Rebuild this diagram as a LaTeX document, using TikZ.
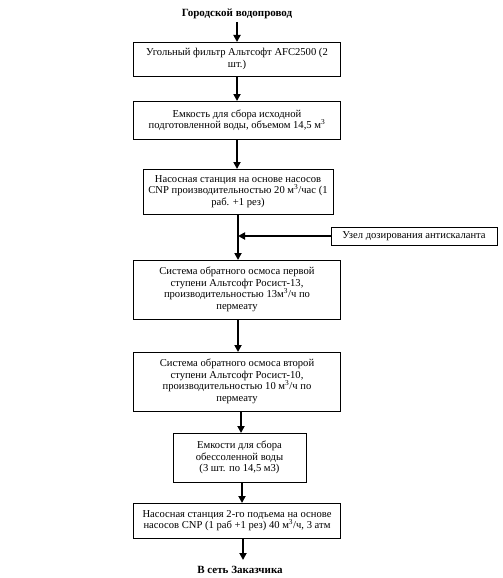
\documentclass[tikz,border=0pt]{standalone}
\usepackage{fontspec}
\setmainfont{Liberation Serif}
\usetikzlibrary{arrows.meta}
\begin{document}
\begin{tikzpicture}[x=1pt,y=-1pt,
  box/.style={draw=black,line width=0.8pt,align=center,inner sep=1pt,
    font=\fontsize{10.6}{11.5}\selectfont},
  lbl/.style={font=\bfseries\fontsize{11}{12}\selectfont,inner sep=1pt},
  flow/.style={line width=1.8pt,-{Triangle[length=7pt,width=7pt]}}]
\useasboundingbox (0,0) rectangle (503,578);
\fill[white] (0,0) rectangle (503,578);
\node[lbl] (top) at (237,14) {Городской водопровод};
\node[box,minimum width=207pt,minimum height=34pt] (b1) at (237,59)
  {Угольный фильтр Альтсофт AFC2500 (2\\шт.)};
\node[box,minimum width=207pt,minimum height=38pt] (b2) at (237,120)
  {Емкость для сбора исходной\\подготовленной воды, объемом 14,5 м\textsuperscript{3}};
\node[box,minimum width=190pt,minimum height=45pt] (b3) at (238,191.5)
  {Насосная станция на основе насосов\\CNP производительностью 20 м\textsuperscript{3}/час (1\\раб. +1 рез)};
\node[box,minimum width=166pt,minimum height=18pt] (side) at (414,236)
  {Узел дозирования антискаланта};
\node[box,minimum width=207pt,minimum height=59pt] (b4) at (237,289.5)
  {Система обратного осмоса первой\\ступени Альтсофт Росист-13,\\производительностью 13м\textsuperscript{3}/ч по\\пермеату};
\node[box,minimum width=207pt,minimum height=59pt] (b5) at (237,381.5)
  {Система обратного осмоса второй\\ступени Альтсофт Росист-10,\\производительностью 10 м\textsuperscript{3}/ч по\\пермеату};
\node[box,minimum width=133pt,minimum height=49pt] (b6) at (239.5,457.5)
  {Емкости для сбора\\обессоленной воды\\(3 шт. по 14,5 м3)};
\node[box,minimum width=207pt,minimum height=35pt] (b7) at (237,520.5)
  {Насосная станция 2-го подъема на основе\\насосов CNP (1 раб +1 рез) 40 м\textsuperscript{3}/ч, 3 атм};
\node[lbl] (bot) at (240,570) {В сеть Заказчика};
\coordinate (j) at (238,236);
\draw[flow] (237,22) -- (237,42);
\draw[flow] (237,76) -- (237,101);
\draw[flow] (237,139) -- (237,169);
\draw[flow] (238,214) -- (238,260);
\draw[flow] (side.west) -- (j);
\draw[flow] (238,319) -- (238,352);
\draw[flow] (241,411) -- (241,433);
\draw[flow] (242,482) -- (242,503);
\draw[flow] (243,538) -- (243,560);
\end{tikzpicture}
\end{document}
